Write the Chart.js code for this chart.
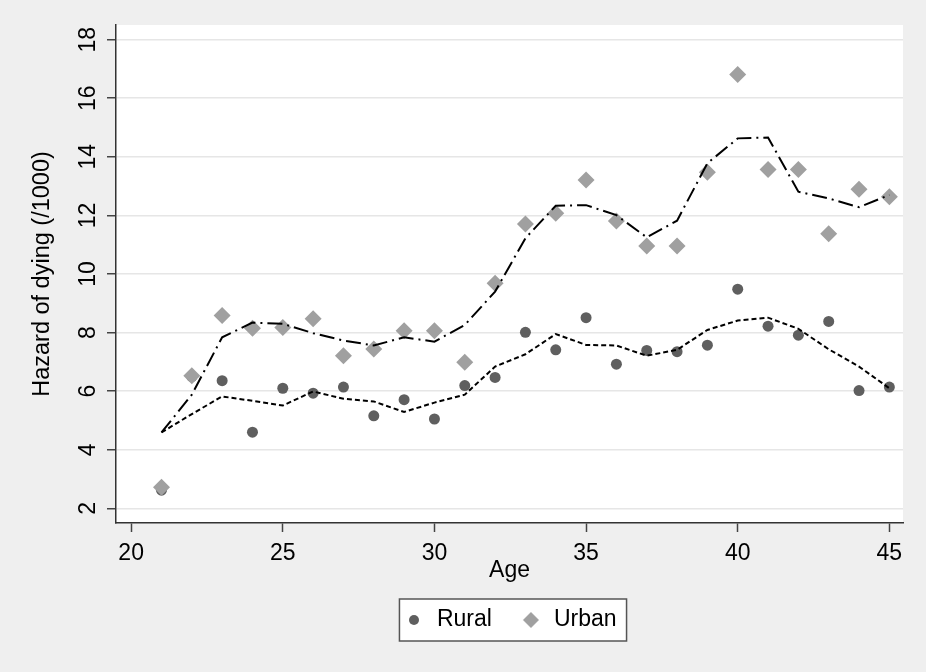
<!DOCTYPE html>
<html>
<head>
<meta charset="utf-8">
<script src="https://cdn.jsdelivr.net/npm/chart.js@4"></script>
<style>
  html, body { margin: 0; padding: 0; background: #efefef; }
  canvas { display: block; }
</style>
</head>
<body>
<canvas id="myChart" width="926" height="672"></canvas>
<script>
var ages = [21, 22, 23, 24, 25, 26, 27, 28, 29, 30, 31, 32, 33, 34, 35, 36, 37, 38, 39, 40, 41, 42, 43, 44, 45];
var rural = [2.62, 6.5, 6.36, 4.60, 6.10, 5.93, 6.14, 5.16, 5.71, 5.05, 6.19, 6.47, 8.01, 7.41, 8.51, 6.92, 7.39, 7.35, 7.57, 9.48, 8.22, 7.91, 8.38, 6.02, 6.14];
var urban = [2.72, 6.53, 8.58, 8.15, 8.17, 8.47, 7.21, 7.44, 8.06, 8.06, 6.99, 9.68, 11.71, 12.07, 13.21, 11.81, 10.96, 10.96, 13.47, 16.81, 13.57, 13.57, 11.37, 12.89, 12.64];
var ruralSmooth = [4.59, 5.22, 5.82, 5.67, 5.51, 5.99, 5.74, 5.65, 5.29, 5.61, 5.88, 6.84, 7.26, 7.95, 7.58, 7.56, 7.21, 7.41, 8.09, 8.41, 8.51, 8.13, 7.43, 6.84, 6.10];
var urbanSmooth = [4.59, 5.88, 7.84, 8.34, 8.30, 7.98, 7.73, 7.56, 7.84, 7.69, 8.26, 9.40, 11.22, 12.33, 12.35, 12.01, 11.25, 11.82, 13.78, 14.63, 14.66, 12.81, 12.58, 12.28, 12.70];
var xTicks = [20, 25, 30, 35, 40, 45];
var yTicks = [2, 4, 6, 8, 10, 12, 14, 16, 18];

var FONT = "'Liberation Sans', Arial, sans-serif";
var ruralColor = '#5f5f5f';
var urbanColor = '#a0a0a0';

function pts(vals) {
  return ages.map(function (a, i) { return {x: a, y: vals[i]}; });
}

// small canvases used as legend symbols
function marker(shape, r, color) {
  var c = document.createElement('canvas');
  c.width = c.height = 2 * r + 2;
  var g = c.getContext('2d');
  var m = r + 1;
  g.fillStyle = color;
  g.beginPath();
  if (shape === 'circle') {
    g.arc(m, m, r, 0, Math.PI * 2);
  } else {
    g.moveTo(m - r, m); g.lineTo(m, m - r); g.lineTo(m + r, m); g.lineTo(m, m + r);
    g.closePath();
  }
  g.fill();
  return c;
}
var dotIcon = marker('circle', 5, ruralColor);
var diamondIcon = marker('diamond', 8, urbanColor);

var framePlugin = {
  id: 'frame',
  afterLayout: function (chart) {
    // centre the legend under the plot area, not the whole canvas
    var lg = chart.legend, a = chart.chartArea;
    var dx = (a.left + a.right) / 2 - (lg.left + lg.right) / 2;
    lg.left += dx;
    lg.right += dx;
  },
  beforeDraw: function (chart) {
    var ctx = chart.ctx, a = chart.chartArea;
    ctx.save();
    ctx.fillStyle = '#efefef';
    ctx.fillRect(0, 0, chart.width, chart.height);
    ctx.fillStyle = '#ffffff';
    ctx.fillRect(a.left, a.top, a.right - a.left, a.bottom - a.top);
    // legend box
    var lg = chart.legend;
    var p = lg.options.labels.padding;
    var x0 = (lg.left + p + lg.right - lg.lineWidths[0]) / 2;
    var x1 = x0 + lg.lineWidths[0] - p;
    var cy = lg.top + p + 11.5;
    ctx.fillStyle = '#ffffff';
    ctx.fillRect(x0 - 3, cy - 21, x1 - x0 + 13, 42);
    ctx.strokeStyle = '#555';
    ctx.lineWidth = 1.5;
    ctx.strokeRect(x0 - 3, cy - 21, x1 - x0 + 13, 42);
    ctx.restore();
  }
};

var ctx = document.getElementById('myChart').getContext('2d');
var myChart = new Chart(ctx, {
  type: 'scatter',
  data: {
    datasets: [{
      label: 'urban smooth',
      data: pts(urbanSmooth),
      showLine: true,
      borderColor: '#000',
      borderWidth: 2,
      borderDash: [15, 5, 2, 5],
      pointRadius: 0,
      tension: 0,
      fill: false
    }, {
      label: 'rural smooth',
      data: pts(ruralSmooth),
      showLine: true,
      borderColor: '#000',
      borderWidth: 2,
      borderDash: [5, 3],
      pointRadius: 0,
      tension: 0,
      fill: false
    }, {
      label: 'Urban',
      data: pts(urban),
      pointStyle: 'rectRot',
      pointRadius: 8.5,
      pointBackgroundColor: urbanColor,
      pointBorderWidth: 0,
      backgroundColor: urbanColor
    }, {
      label: 'Rural',
      data: pts(rural),
      pointStyle: 'circle',
      pointRadius: 5.5,
      pointBackgroundColor: ruralColor,
      pointBorderWidth: 0,
      backgroundColor: ruralColor
    }]
  },
  options: {
    responsive: false,
    animation: false,
    layout: { padding: { left: 0, right: 23, top: 25, bottom: 30.5 } },
    plugins: {
      tooltip: { enabled: false },
      legend: {
        position: 'bottom',
        labels: {
          font: { family: FONT, size: 23 },
          color: '#000',
          usePointStyle: true,
          boxWidth: 23,
          boxHeight: 23,
          padding: 27.5,
          generateLabels: function () {
            return [
              { text: 'Rural', pointStyle: dotIcon, fillStyle: ruralColor, strokeStyle: ruralColor, lineWidth: 0, hidden: false, fontColor: '#000', datasetIndex: 3 },
              { text: 'Urban', pointStyle: diamondIcon, fillStyle: urbanColor, strokeStyle: urbanColor, lineWidth: 0, hidden: false, fontColor: '#000', datasetIndex: 2 }
            ];
          }
        }
      }
    },
    scales: {
      x: {
        type: 'linear',
        min: 19.5,
        max: 45.45,
        afterBuildTicks: function (s) { s.ticks = xTicks.map(function (v) { return {value: v}; }); },
        afterFit: function (s) { s.height = 58; },
        grid: { drawOnChartArea: false, tickLength: 9, tickColor: '#444', tickWidth: 1.5 },
        border: { display: true, color: '#333', width: 1.5 },
        ticks: { font: { family: FONT, size: 23 }, color: '#000', padding: 8, maxRotation: 0 },
        title: { display: true, text: 'Age', font: { family: FONT, size: 23 }, color: '#000', padding: { top: 0, bottom: -3.5 } }
      },
      y: {
        min: 1.5,
        max: 18.5,
        afterBuildTicks: function (s) { s.ticks = yTicks.map(function (v) { return {value: v}; }); },
        afterFit: function (s) { s.width = 116; },
        grid: { color: '#e6e6e6', lineWidth: 1.5, tickLength: 9, tickColor: '#444', tickWidth: 1.5 },
        border: { display: true, color: '#333', width: 1.5 },
        ticks: { font: { family: FONT, size: 23 }, color: '#000', padding: 6, minRotation: 90, maxRotation: 90, crossAlign: 'center' },
        title: { display: true, text: 'Hazard of dying (/1000)', font: { family: FONT, size: 23.5 }, color: '#000', padding: { top: 28.5, bottom: 0 } }
      }
    }
  },
  plugins: [framePlugin]
});
</script>
</body>
</html>
